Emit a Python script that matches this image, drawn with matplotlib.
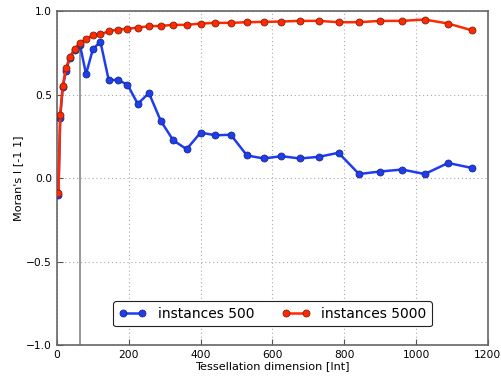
import matplotlib
matplotlib.use("Agg")
import matplotlib.pyplot as plt

# tessellation dimensions (n x n grids)
dims = [4, 9, 16, 25, 36, 49, 64, 81, 100, 121, 144, 169, 196, 225, 256, 289,
        324, 361, 400, 441, 484, 529, 576, 625, 676, 729, 784, 841, 900, 961,
        1024, 1089, 1156]

moran_500 = [-0.10, 0.36, 0.545, 0.642, 0.72, 0.765, 0.796, 0.623, 0.772, 0.816,
             0.587, 0.587, 0.560, 0.444, 0.509, 0.342, 0.225, 0.173, 0.272,
             0.256, 0.259, 0.135, 0.117, 0.131, 0.117, 0.127, 0.151, 0.024,
             0.039, 0.051, 0.024, 0.090, 0.060]

moran_5000 = [-0.09, 0.38, 0.55, 0.657, 0.726, 0.772, 0.806, 0.832, 0.854, 0.860,
              0.879, 0.889, 0.893, 0.901, 0.909, 0.911, 0.917, 0.917, 0.925,
              0.929, 0.929, 0.933, 0.935, 0.937, 0.941, 0.941, 0.933, 0.933,
              0.941, 0.941, 0.949, 0.925, 0.884]

marker_line = 64

fig = plt.figure(figsize=(5.02, 3.8), dpi=100)
ax = fig.add_axes([0.1135, 0.092, 0.8585, 0.879])

# gray vertical marker
ax.vlines(marker_line, -1.0, 0.8, color='#888888', linewidth=1.2, zorder=1)

ax.plot(dims, moran_500, '-o', color='#1e3cf0', linewidth=1.8, markersize=5,
        markeredgecolor='#1a2a80', markeredgewidth=0.6, label='instances 500', zorder=3)
ax.plot(dims, moran_5000, '-o', color='#ff2a00', linewidth=1.8, markersize=5,
        markeredgecolor='#802010', markeredgewidth=0.6, label='instances 5000', zorder=4)

ax.set_xlim(0, 1200)
ax.set_ylim(-1.0, 1.0)
ax.set_xticks([0, 200, 400, 600, 800, 1000, 1200])
ax.set_yticks([-1.0, -0.5, 0.0, 0.5, 1.0])
ax.tick_params(direction='in', labelsize=7.7, color='#555555', length=4)
for s in ax.spines.values():
    s.set_color('#666666')
    s.set_linewidth(1.2)

ax.grid(True, color='#aaaaaa', linestyle=(0, (1, 2.5)), linewidth=0.8)
ax.set_xlabel("Tessellation dimension [Int]", fontsize=8.1, labelpad=1)
ax.set_ylabel("Moran's I [-1 1]", fontsize=8.1, labelpad=2)

leg = ax.legend(loc='lower center', ncol=2, numpoints=2, fontsize=10,
                bbox_to_anchor=(0.5, 0.035), fancybox=True, framealpha=1,
                edgecolor='#222222', handlelength=2, columnspacing=2)
leg.get_frame().set_linewidth(0.8)

plt.savefig('out.png', dpi=100)
